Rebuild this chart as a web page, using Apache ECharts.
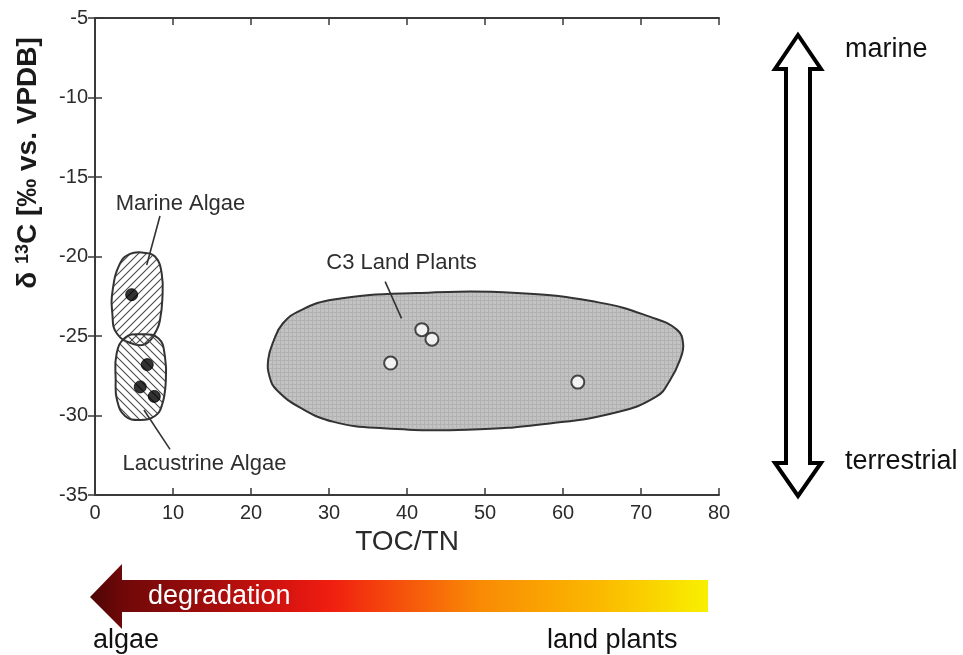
<!DOCTYPE html>
<html>
<head>
<meta charset="utf-8">
<script src="https://cdn.jsdelivr.net/npm/echarts@6.0.0/dist/echarts.min.js"></script>
<style>html,body{margin:0;padding:0;background:#fff}#c{width:963px;height:655px}</style>
</head>
<body>
<div id="c"></div>
<script>
// ---- data ----
const xTicks = [0, 10, 20, 30, 40, 50, 60, 70, 80];
const yTicks = [-35, -30, -25, -20, -15, -10, -5];
const marineAlgaePoints = [[4.7, -22.4]];
const lacustrineAlgaePoints = [[6.7, -26.8], [5.8, -28.2], [7.6, -28.8]];
const c3PlantPoints = [[41.9, -24.6], [43.2, -25.2], [37.9, -26.7], [61.9, -27.9]];

const marineAlgaeOutline = [[6.19,-19.76],[7.69,-20.0],[8.55,-21.06],[8.63,-22.74],[8.33,-24.0],[7.91,-24.62],[6.63,-25.46],[4.91,-25.5],[2.78,-24.83],[2.22,-23.57],[2.27,-22.1],[3.21,-20.43],[4.49,-19.84]];
const lacustrineAlgaeOutline = [[5.77,-24.89],[8.12,-25.14],[8.97,-26.3],[9.06,-27.97],[8.59,-29.34],[7.69,-30.03],[5.77,-30.28],[3.85,-30.03],[2.82,-29.03],[2.65,-27.77],[2.78,-26.09],[3.85,-25.11]];
const c3PlantsOutline = [[22.2,-26.5],[22.9,-25.3],[24.1,-24.2],[26.3,-23.4],[30.6,-22.7],[41.2,-22.3],[54.1,-22.3],[64.7,-22.9],[71.2,-23.8],[74.6,-24.6],[75.4,-25.5],[75.0,-26.5],[73.7,-27.8],[72.0,-28.8],[66.9,-29.8],[58.3,-30.5],[47.7,-30.9],[37.0,-30.8],[30.6,-30.4],[26.3,-29.5],[23.3,-28.4],[22.4,-27.6]];

const regionLabels = ['Marine Algae', 'Lacustrine Algae', 'C3 Land Plants'];
const regionLabelPos = [[10.96, -16.7], [14.04, -33.05], [39.3, -20.41]];
const leaderLines = [[[8.33, -17.45], [6.63, -20.53]], [[6.28, -29.65], [9.62, -32.13]], [[37.2, -21.58], [39.3, -23.89]]];

// ---- patterns ----
function hatch(dir) {
  const c = document.createElement('canvas');
  c.width = 8; c.height = 8;
  const g = c.getContext('2d');
  g.strokeStyle = '#4a4a4a'; g.lineWidth = 1.1;
  g.beginPath();
  if (dir > 0) {
    g.moveTo(-1, 9); g.lineTo(9, -1);
    g.moveTo(-3, 3); g.lineTo(3, -3);
    g.moveTo(5, 11); g.lineTo(11, 5);
  } else {
    g.moveTo(-1, -1); g.lineTo(9, 9);
    g.moveTo(-3, 5); g.lineTo(3, 11);
    g.moveTo(5, -3); g.lineTo(11, 3);
  }
  g.stroke();
  return c;
}
function stipple() {
  const c = document.createElement('canvas');
  c.width = 4; c.height = 4;
  const g = c.getContext('2d');
  g.fillStyle = '#c3c3c3'; g.fillRect(0, 0, 4, 4);
  g.fillStyle = '#b2b2b2'; g.fillRect(0, 0, 4, 1); g.fillRect(0, 0, 1, 4);
  return c;
}
const marineFill = { type: 'pattern', image: hatch(1), repeat: 'repeat' };
const lacFill = { type: 'pattern', image: hatch(-1), repeat: 'repeat' };
const c3Fill = { type: 'pattern', image: stipple(), repeat: 'repeat' };

function regionSeries(name, outline, fill) {
  return {
    type: 'custom', name: name, coordinateSystem: 'cartesian2d', clip: false, silent: true, z: 1,
    data: [outline[0]],
    renderItem: function (params, api) {
      const pts = outline.map(p => api.coord(p));
      return {
        type: 'polygon',
        shape: { points: pts, smooth: 0.45 },
        style: { fill: fill, stroke: '#333', lineWidth: 2 }
      };
    }
  };
}

const FONT = 'Liberation Sans, Arial, sans-serif';
const chart = echarts.init(document.getElementById('c'), null, { renderer: 'canvas' });

const axisLine = { show: true, lineStyle: { color: '#3a3a3a', width: 2 } };
const axisTickIn = { show: true, inside: true, length: 7, lineStyle: { color: '#3a3a3a', width: 1.5 } };

const option = {
  backgroundColor: '#fff',
  animation: false,
  grid: { left: 95, top: 18, right: 244, bottom: 160, containLabel: false, outerBoundsMode: 'none' },
  xAxis: [
    {
      type: 'value', min: xTicks[0], max: xTicks[xTicks.length - 1], interval: 10, position: 'bottom',
      axisLine: axisLine, axisTick: axisTickIn, splitLine: { show: false },
      axisLabel: { margin: 8, fontSize: 20, color: '#2b2b2b', fontFamily: FONT },
      name: 'TOC/TN', nameLocation: 'middle', nameGap: 32,
      nameTextStyle: { fontSize: 28, color: '#2a2a2a', fontFamily: FONT }
    },
    {
      type: 'value', min: xTicks[0], max: xTicks[xTicks.length - 1], interval: 10, position: 'top',
      axisLine: axisLine, axisTick: axisTickIn, splitLine: { show: false }, axisLabel: { show: false }
    }
  ],
  yAxis: [
    {
      type: 'value', min: yTicks[0], max: yTicks[yTicks.length - 1], interval: 5, position: 'left',
      axisLine: axisLine, axisTick: axisTickIn, splitLine: { show: false },
      axisLabel: { margin: 7, fontSize: 20, color: '#2b2b2b', fontFamily: FONT }
    },
    {
      type: 'value', min: yTicks[0], max: yTicks[yTicks.length - 1], interval: 5, position: 'right',
      axisLine: axisLine, axisTick: axisTickIn, splitLine: { show: false }, axisLabel: { show: false }
    }
  ],
  series: [
    regionSeries('C3 Land Plants region', c3PlantsOutline, c3Fill),
    regionSeries('Marine Algae region', marineAlgaeOutline, marineFill),
    regionSeries('Lacustrine Algae region', lacustrineAlgaeOutline, lacFill),
    {
      type: 'custom', name: 'annotations', coordinateSystem: 'cartesian2d', clip: false, silent: true, z: 3,
      data: regionLabelPos,
      renderItem: function (params, api) {
        const i = params.dataIndex;
        const p = api.coord(regionLabelPos[i]);
        const a = api.coord(leaderLines[i][0]);
        const b = api.coord(leaderLines[i][1]);
        return {
          type: 'group',
          children: [
            { type: 'line', shape: { x1: a[0], y1: a[1], x2: b[0], y2: b[1] }, style: { stroke: '#333', lineWidth: 1.6 } },
            { type: 'text', style: { text: regionLabels[i], x: p[0], y: p[1], align: 'center', verticalAlign: 'middle', font: '22px ' + FONT, fill: '#2e2e2e' } }
          ]
        };
      }
    },
    {
      type: 'scatter', name: 'Marine Algae', data: marineAlgaePoints, symbol: 'circle', symbolSize: 12, z: 5,
      itemStyle: { color: '#000', borderColor: '#000', borderWidth: 1 }
    },
    {
      type: 'scatter', name: 'Lacustrine Algae', data: lacustrineAlgaePoints, symbol: 'circle', symbolSize: 12, z: 5,
      itemStyle: { color: '#000', borderColor: '#000', borderWidth: 1 }
    },
    {
      type: 'scatter', name: 'C3 Land Plants', data: c3PlantPoints, symbol: 'circle', symbolSize: 13, z: 5,
      itemStyle: { color: '#fff', borderColor: '#222', borderWidth: 2 }
    }
  ],
  graphic: [
    {
      type: 'text', x: 28, y: 163, rotation: Math.PI / 2,
      style: {
        text: '{a|δ }{s|13}{a|C [‰ vs. VPDB]}',
        align: 'center', verticalAlign: 'middle',
        rich: {
          a: { fontSize: 28, fontWeight: 'bold', fontFamily: FONT, fill: '#1a1a1a', color: '#1a1a1a' },
          s: { fontSize: 18, fontWeight: 'bold', fontFamily: FONT, fill: '#1a1a1a', color: '#1a1a1a', verticalAlign: 'top' }
        }
      }
    },
    {
      type: 'polygon',
      shape: { points: [[798, 35], [821, 69], [810, 69], [810, 463], [821, 463], [798, 496], [775, 463], [786, 463], [786, 69], [775, 69]] },
      style: { fill: '#fff', stroke: '#000', lineWidth: 4, lineJoin: 'miter' }
    },
    { type: 'text', x: 845, y: 50, style: { text: 'marine', font: '27px ' + FONT, fill: '#111', verticalAlign: 'middle' } },
    { type: 'text', x: 845, y: 462, style: { text: 'terrestrial', font: '27px ' + FONT, fill: '#111', verticalAlign: 'middle' } },
    {
      type: 'polygon',
      shape: { points: [[90, 597], [122, 564], [122, 580], [708, 580], [708, 612], [122, 612], [122, 629]] },
      style: {
        fill: {
          type: 'linear', x: 0, y: 0, x2: 1, y2: 0,
          colorStops: [
            { offset: 0, color: '#4e0505' },
            { offset: 0.05, color: '#6e0808' },
            { offset: 0.18, color: '#9c0c0c' },
            { offset: 0.32, color: '#d81410' },
            { offset: 0.39, color: '#f01e10' },
            { offset: 0.5, color: '#f5500c' },
            { offset: 0.63, color: '#f98a05' },
            { offset: 0.83, color: '#fbba00' },
            { offset: 1, color: '#f8f000' }
          ]
        }
      }
    },
    { type: 'text', x: 148, y: 597, style: { text: 'degradation', font: '27px ' + FONT, fill: '#fff', verticalAlign: 'middle' } },
    { type: 'text', x: 93, y: 641, style: { text: 'algae', font: '27px ' + FONT, fill: '#111', verticalAlign: 'middle' } },
    { type: 'text', x: 547, y: 641, style: { text: 'land plants', font: '27px ' + FONT, fill: '#111', verticalAlign: 'middle' } }
  ]
};
chart.setOption(option);
</script>
</body>
</html>
